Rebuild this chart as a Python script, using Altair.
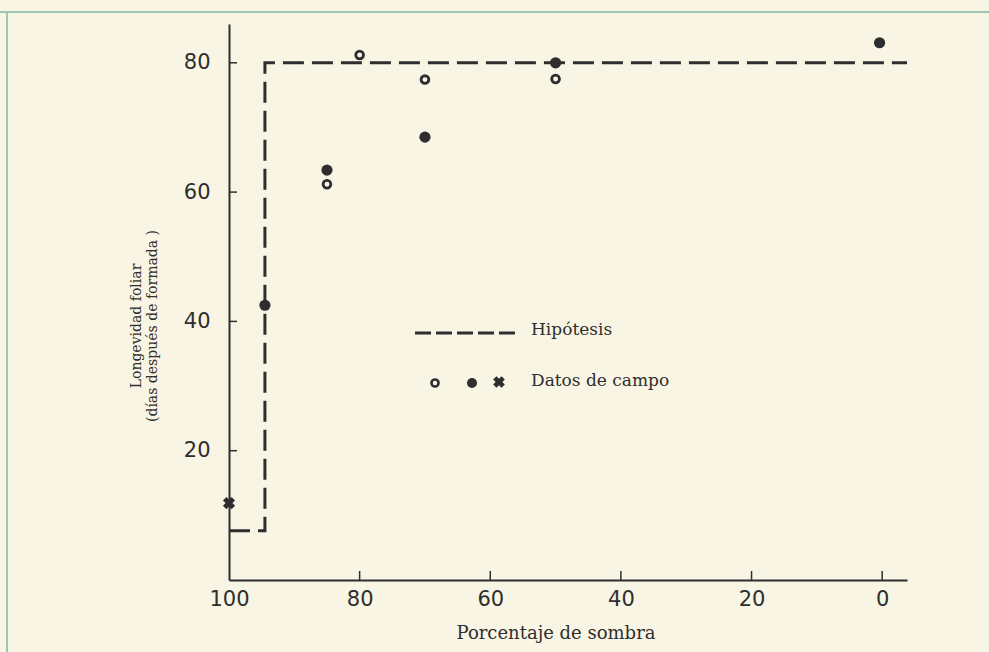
import altair as alt
import pandas as pd

# ---- data ----
open_x = [85, 80, 70, 50]
open_y = [61.2, 81.2, 77.4, 77.5]
filled_x = [94.5, 85, 70, 50, 0.4]
filled_y = [42.5, 63.4, 68.5, 80.0, 83.1]
cross_x = [100]
cross_y = [11.9]
hyp_x = [100, 94.5, 94.5, -3.8]
hyp_y = [7.6, 7.6, 80, 80]
x_tick_vals = [80, 60, 40, 20, 0]
x_label_vals = [100, 80, 60, 40, 20, 0]
y_tick_vals = [20, 40, 60, 80]
legend_labels = ["Hipótesis", "Datos de campo"]
x_title = "Porcentaje de sombra"
y_title = ["Longevidad foliar", "(días después de formada )"]

INK = "#2e2e2e"
BG = "#f9f5e4"
SERIF = "DejaVu Serif"
SANS = "DejaVu Sans"

xscale = alt.Scale(domain=[-3.8, 100], reverse=True, nice=False, zero=False)
yscale = alt.Scale(domain=[0, 86], nice=False, zero=False)

xaxis = alt.Axis(values=x_label_vals, ticks=False, tickSize=0, grid=False, title=None,
                 domainColor=INK, domainWidth=2, labelFont=SANS, labelFontSize=21,
                 labelColor=INK, labelPadding=8, labelFlush=False)
yaxis = alt.Axis(values=y_tick_vals, ticks=False, tickSize=0, grid=False, title=None,
                 domainColor=INK, domainWidth=2, labelFont=SANS, labelFontSize=21,
                 labelColor=INK, labelPadding=19, labelFlush=False)


def X(field):
    return alt.X(field, type="quantitative", scale=xscale, axis=xaxis)


def Y(field):
    return alt.Y(field, type="quantitative", scale=yscale, axis=yaxis)


one = pd.DataFrame({"a": [0]})

hyp_df = pd.DataFrame({"x": hyp_x, "y": hyp_y, "i": list(range(len(hyp_x)))})
hyp = alt.Chart(hyp_df).mark_line(color=INK, strokeWidth=3, strokeDash=[21, 8]).encode(
    x=X("x"), y=Y("y"), order="i:Q")

open_df = pd.DataFrame({"x": open_x, "y": open_y})
opens = alt.Chart(open_df).mark_point(shape="circle", filled=False, color=INK,
                                      strokeWidth=2.8, size=60, opacity=1).encode(x=X("x"), y=Y("y"))

filled_df = pd.DataFrame({"x": filled_x, "y": filled_y})
filled = alt.Chart(filled_df).mark_point(shape="circle", filled=True, color=INK,
                                         size=125, opacity=1).encode(x=X("x"), y=Y("y"))

cross_df = pd.DataFrame({"x": cross_x, "y": cross_y})
cross = alt.Chart(cross_df).mark_point(shape="cross", filled=True, color=INK, angle=45,
                                       size=150, opacity=1).encode(x=X("x"), y=Y("y"))

xt = alt.Chart(pd.DataFrame({"v": x_tick_vals})).mark_rule(color=INK, strokeWidth=1.5).encode(
    x=X("v"), y=alt.value(556), y2=alt.value(547))
yt = alt.Chart(pd.DataFrame({"v": y_tick_vals})).mark_rule(color=INK, strokeWidth=1.5).encode(
    y=Y("v"), x=alt.value(0), x2=alt.value(8))

# legend
leg_line = alt.Chart(one).mark_rule(color=INK, strokeWidth=3, strokeDash=[16, 5]).encode(
    x=alt.value(186), x2=alt.value(291), y=alt.value(309))
leg_open = alt.Chart(one).mark_point(shape="circle", filled=False, color=INK, strokeWidth=2.6,
                                     size=50, opacity=1).encode(x=alt.value(206), y=alt.value(359))
leg_fill = alt.Chart(one).mark_point(shape="circle", filled=True, color=INK, size=100,
                                     opacity=1).encode(x=alt.value(243), y=alt.value(359))
leg_cross = alt.Chart(one).mark_point(shape="cross", filled=True, color=INK, angle=45, size=140,
                                      opacity=1).encode(x=alt.value(270), y=alt.value(358))
leg_t1 = alt.Chart(one).mark_text(text=legend_labels[0], font=SERIF, fontSize=17, color=INK,
                                  align="left", baseline="middle").encode(
    x=alt.value(302), y=alt.value(306))
leg_t2 = alt.Chart(one).mark_text(text=legend_labels[1], font=SERIF, fontSize=17, color=INK,
                                  align="left", baseline="middle").encode(
    x=alt.value(302), y=alt.value(357))

# axis titles
xtitle = alt.Chart(one).mark_text(text=x_title, font=SERIF, fontSize=18, color=INK,
                                  align="center", baseline="middle").encode(
    x=alt.value(327), y=alt.value(610))
ytitle1 = alt.Chart(one).mark_text(text=y_title[0], font=SERIF, fontSize=14, color=INK,
                                   align="center", baseline="middle", angle=270).encode(
    x=alt.value(-92), y=alt.value(302))
ytitle2 = alt.Chart(one).mark_text(text=y_title[1], font=SERIF, fontSize=14, color=INK,
                                   align="center", baseline="middle", angle=270).encode(
    x=alt.value(-76), y=alt.value(302))

# page frame
frame_top = alt.Chart(one).mark_rule(color="#9cc5b2", strokeWidth=2).encode(
    x=alt.value(-229), x2=alt.value(760), y=alt.value(-12))
frame_left = alt.Chart(one).mark_rule(color="#9cc5b2", strokeWidth=2).encode(
    x=alt.value(-222), y=alt.value(-12), y2=alt.value(628))

chart = alt.layer(
    frame_top, frame_left, xt, yt, hyp, opens, filled, cross,
    leg_line, leg_open, leg_fill, leg_cross, leg_t1, leg_t2, xtitle, ytitle1, ytitle2
).properties(
    width=678, height=556,
    autosize=alt.AutoSizeParams(type="none"),
    padding={"left": 229, "top": 24, "right": 82, "bottom": 72},
    background=BG,
).configure_view(stroke=None)

chart.save("out.html", embed_options={"renderer": "svg", "actions": False})
